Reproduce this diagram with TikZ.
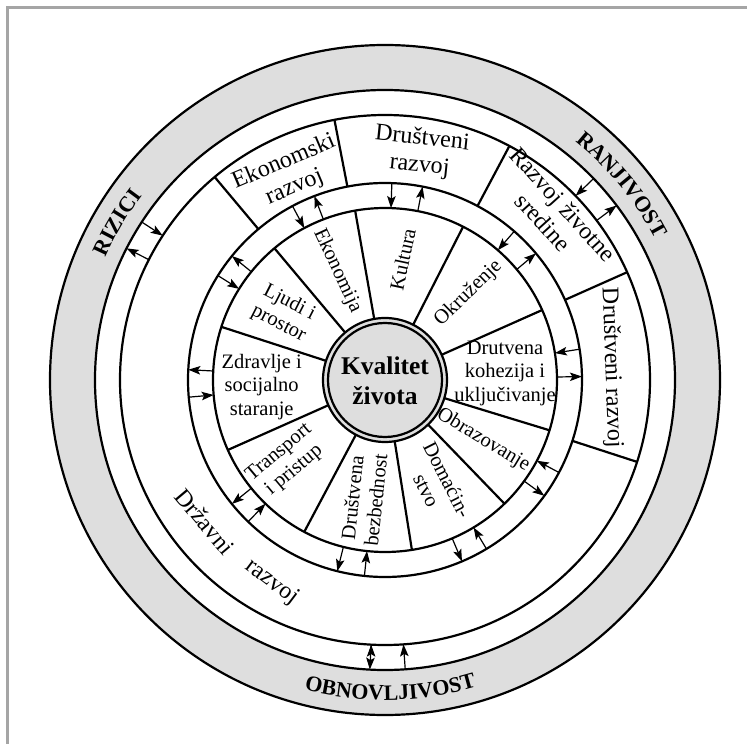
\documentclass[tikz,border=0pt]{standalone}
\usepackage{fontspec}
\setmainfont{Liberation Serif}
\usetikzlibrary{arrows.meta,decorations.text}
\definecolor{ringgray}{RGB}{222,222,222}
\definecolor{framegray}{RGB}{165,165,165}
\newcommand{\rimfont}{\bfseries\fontsize{22}{22}\selectfont}

\begin{document}
\begin{tikzpicture}[x=1pt, y=1pt,
        ring/.style={circle, draw=black, line width=2.2pt, inner sep=0pt, outer sep=0pt, minimum size=#1},
        spoke/.style={line width=2.2pt},
        flow/.style={line width=1.2pt, ->, >={Stealth[length=12pt, width=8.5pt, inset=2.5pt]}},
        sector/.style={font=\fontsize{20.5}{23.5}\selectfont, align=center, inner sep=0pt},
        devlabel/.style={font=\fontsize{24}{27}\selectfont, align=center, inner sep=0pt},
        rimtext/.style={decorate, decoration={text along path, text align=center,
            text format delimiters={|}{|}, text={|\rimfont|#1}}}]
    \useasboundingbox (-385, -364) rectangle (362, 380);
    \draw[framegray, line width=3pt] (-377, -364) -- (-377, 372) -- (362, 372);

    \node [ring=670pt, fill=ringgray] at (0, 0) (outer) {};
    \node [ring=580pt, fill=white] at (0, 0) (grayin) {};
    \node [ring=530pt] at (0, 0) (ring3) {};
    \node [ring=394pt] at (0, 0) (ring4) {};
    \node [ring=344pt] at (0, 0) (ring5) {};
    \node [ring=124pt, fill=ringgray] at (0, 0) (core) {};
    \node [ring=114pt] at (0, 0) (corein) {};

    \draw[spoke]
        (core.100) -- (ring5.100)
        (core.63) -- (ring5.63)
        (core.24) -- (ring5.24)
        (core.-17) -- (ring5.-17)
        (core.-46) -- (ring5.-46)
        (core.-81) -- (ring5.-81)
        (core.-118) -- (ring5.-118)
        (core.-156) -- (ring5.-156)
        (core.162) -- (ring5.162)
        (core.130) -- (ring5.130)
        (ring4.130) -- (ring3.130)
        (ring4.101) -- (ring3.101)
        (ring4.62) -- (ring3.62)
        (ring4.24) -- (ring3.24)
        (ring4.-18) -- (ring3.-18);

    \draw[flow]
        (ring4.88) edge (ring5.88)
        (ring5.79) edge (ring4.79)
        (ring4.118) edge (ring5.118)
        (ring5.111) edge (ring4.111)
        (ring4.148) edge (ring5.148)
        (ring5.141) edge (ring4.141)
        (ring4.185) edge (ring5.185)
        (ring5.177) edge (ring4.177)
        (ring4.226) edge (ring5.226)
        (ring5.219) edge (ring4.219)
        (ring4.264) edge (ring5.264)
        (ring5.256) edge (ring4.256)
        (ring4.301) edge (ring5.301)
        (ring5.293) edge (ring4.293)
        (ring4.332) edge (ring5.332)
        (ring5.324) edge (ring4.324)
        (ring4.9) edge (ring5.9)
        (ring5.1) edge (ring4.1)
        (ring4.49) edge (ring5.49)
        (ring5.40) edge (ring4.40)
        (grayin.147) edge (ring3.147)
        (ring3.153) edge (grayin.153)
        (grayin.44) edge (ring3.44)
        (ring3.37) edge (grayin.37)
        (grayin.274) edge (ring3.274)
        (ring3.267) edge (grayin.267);

    \node [font=\bfseries\fontsize{25.5}{30}\selectfont, align=center] at (0, -1) (kvalitet) {Kvalitet\\života};

    \node [sector, rotate=78] at (17.7, 120.7) (kultura) {Kultura};
    \node [sector, rotate=-65] at (-47.7, 109.3) (ekonomija) {Ekonomija};
    \node [sector, rotate=-27] at (-101, 66.7) (ljudi) {Ljudi i\\prostor};
    \node [sector] at (-123.3, -6.7) (zdravlje) {Zdravlje i\\socijalno\\staranje};
    \node [sector, rotate=40] at (-98.3, -81.7) (transport) {Transport\\i pristup};
    \node [sector, rotate=84] at (-21, -119) (bezbednost) {Društvena\\bezbednost};
    \node [sector, rotate=-63] at (52, -105) (domacinstvo) {Domaćin-\\stvo};
    \node [sector, rotate=-31] at (98.3, -60) (obrazovanje) {Obrazovanje};
    \node [sector] at (120, 6.7) (kohezija) {Drutvena\\kohezija i\\uključivanje};
    \node [sector, rotate=44] at (83.3, 86.7) (okruzenje) {Okruženje};

    \node [devlabel, rotate=23] at (-95.7, 205.3) (ekorazvoj) {Ekonomski\\razvoj};
    \node [devlabel, rotate=-6] at (36, 227.5) (drurazvoj) {Društveni\\razvoj};
    \node [devlabel, rotate=-48] at (168.3, 166.7) (sredina) {Razvoj životne\\sredine};
    \node [devlabel, rotate=-88] at (226.3, 12) (drurazvojb) {Društveni razvoj};
    \node [devlabel, rotate=-50] at (-180, -141.5) (drzavni) {Državni};
    \node [devlabel, rotate=-37] at (-113.3, -202.5) (drzavnib) {razvoj};

    \path[rimtext=RIZICI] (175:305) arc[start angle=175, end angle=124, radius=305pt];
    \path[rimtext=RANJIVOST] (65:305) arc[start angle=65, end angle=14, radius=305pt];
    \path[rimtext=OBNOVLJIVOST] (-125:320) arc[start angle=-125, end angle=-53, radius=320pt];
\end{tikzpicture}
\end{document}
